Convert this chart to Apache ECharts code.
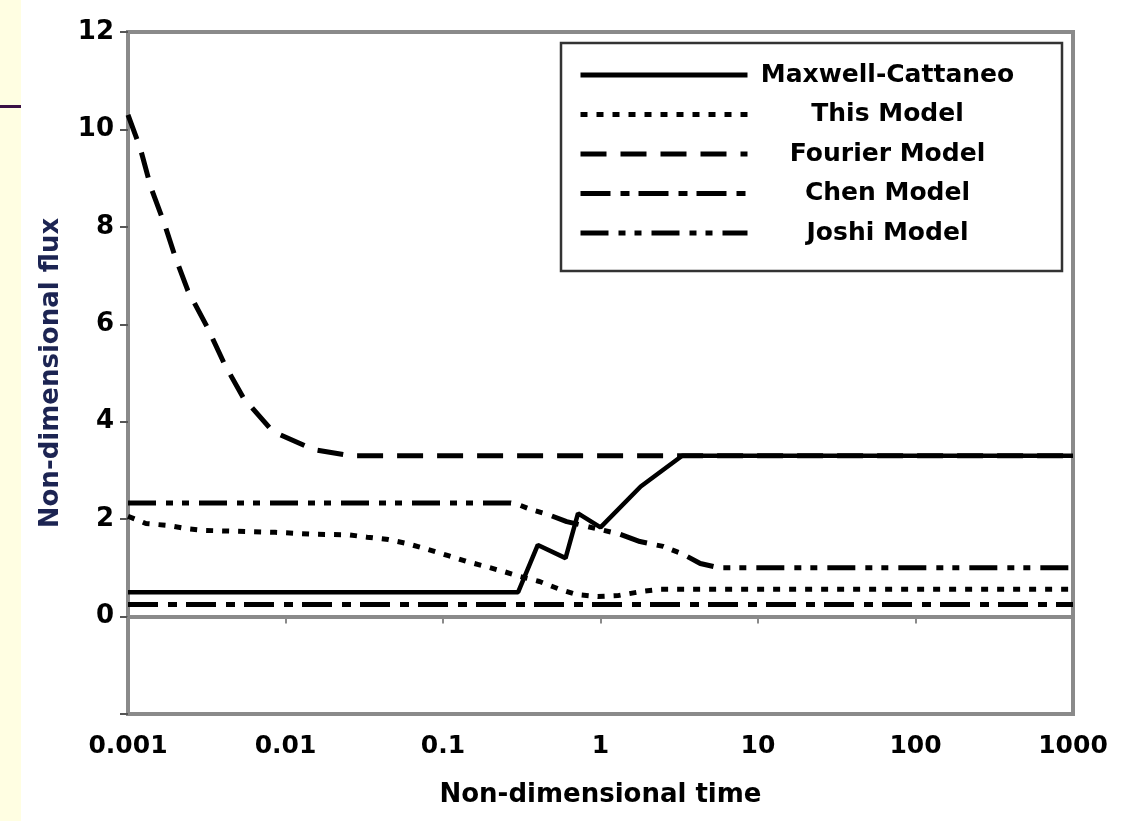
<!DOCTYPE html>
<html>
<head>
<meta charset="utf-8">
<script src="https://cdn.jsdelivr.net/npm/echarts@6/dist/echarts.min.js"></script>
<style>
  html, body { margin: 0; padding: 0; background: #ffffff; }
  #chart { width: 1144px; height: 821px; }
</style>
</head>
<body>
<div id="chart"></div>
<script>
// Non-dimensional heat flux versus non-dimensional time (log scale) for five models.
const seriesNames = ['Maxwell-Cattaneo', 'This Model', 'Fourier Model', 'Chen Model', 'Joshi Model'];

const maxwellT = [0.001, 0.3, 0.4, 0.6, 0.72, 1.0, 1.8, 3.3, 1000];
const maxwellQ = [0.5, 0.5, 1.47, 1.2, 2.12, 1.83, 2.67, 3.3, 3.3];

const thisModelT = [0.001, 0.0013, 0.0018, 0.0023, 0.003, 0.005, 0.0086, 0.015, 0.025, 0.033, 0.045, 0.059,
  0.08, 0.108, 0.142, 0.185, 0.24, 0.31, 0.41, 0.55, 0.71, 0.96, 1.29, 1.78, 2.4, 1000];
const thisModelQ = [2.06, 1.91, 1.87, 1.81, 1.77, 1.75, 1.73, 1.69, 1.68, 1.63, 1.58, 1.5,
  1.38, 1.25, 1.13, 1.03, 0.93, 0.82, 0.72, 0.56, 0.45, 0.41, 0.43, 0.51, 0.56, 0.56];

const fourierT = [0.001, 0.0012, 0.0014, 0.0017, 0.002, 0.0024, 0.0032, 0.0041, 0.0054, 0.0083, 0.015, 0.026, 1000];
const fourierQ = [10.3, 9.6, 8.8, 8.07, 7.37, 6.69, 5.93, 5.18, 4.49, 3.8, 3.43, 3.3, 3.3];

const chenT = [0.001, 1000];
const chenQ = [0.25, 0.25];

const joshiT = [0.001, 0.27, 0.3, 0.36, 0.46, 0.61, 1.33, 1.78, 2.5, 3.34, 4.3, 5.7, 1000];
const joshiQ = [2.33, 2.33, 2.3, 2.2, 2.1, 1.95, 1.69, 1.54, 1.44, 1.28, 1.09, 1.0, 1.0];

const xTickLabels = ['0.001', '0.01', '0.1', '1', '10', '100', '1000'];
const yTickLabels = ['0', '2', '4', '6', '8', '10', '12'];

const zip = (t, q) => t.map((v, i) => [v, q[i]]);

// dash patterns in pixels
const dashes = {
  'Maxwell-Cattaneo': 'solid',
  'This Model': [7, 9],
  'Fourier Model': [26, 14],
  'Chen Model': [30, 10, 9, 9],
  'Joshi Model': [28, 10, 7, 9, 7, 10]
};

const seriesData = {
  'Maxwell-Cattaneo': zip(maxwellT, maxwellQ),
  'This Model': zip(thisModelT, thisModelQ),
  'Fourier Model': zip(fourierT, fourierQ),
  'Chen Model': zip(chenT, chenQ),
  'Joshi Model': zip(joshiT, joshiQ)
};

const fontFam = 'DejaVu Sans, Verdana, sans-serif';

const chart = echarts.init(document.getElementById('chart'), null, { renderer: 'canvas' });

chart.setOption({
  animation: false,
  backgroundColor: '#ffffff',
  graphic: [
    { type: 'rect', z: 0, shape: { x: 0, y: 0, width: 21, height: 821 }, style: { fill: '#fffee2' } },
    { type: 'rect', z: 0, shape: { x: 0, y: 105, width: 21, height: 3 }, style: { fill: '#3a1046' } },
    { type: 'rect', z: 3, shape: { x: 561, y: 43, width: 501, height: 228 },
      style: { fill: '#ffffff', stroke: '#333333', lineWidth: 2.5 } }
  ],
  grid: {
    left: 128, right: 71, top: 32, bottom: 107,
    show: true, borderColor: '#8a8a8a', borderWidth: 4, backgroundColor: 'transparent'
  },
  legend: {
    orient: 'vertical',
    left: 578, top: 61, padding: 0,
    itemWidth: 167, itemHeight: 10, itemGap: 11.5,
    data: seriesNames,
    lineStyle: { width: 5 },
    itemStyle: { color: 'rgba(0,0,0,0)', borderWidth: 0, opacity: 0 },
    formatter: name => '{t|' + name + '}',
    textStyle: {
      rich: {
        t: { width: 270, align: 'center', fontSize: 25, fontWeight: 'bold', fontFamily: fontFam,
             color: '#000', lineHeight: 28, height: 28 }
      }
    }
  },
  xAxis: {
    type: 'log', logBase: 10, min: 0.001, max: 1000,
    splitLine: { show: false },
    axisLine: { lineStyle: { color: '#8a8a8a', width: 4 } },
    axisTick: { length: 7, lineStyle: { color: '#8a8a8a', width: 2 } },
    axisLabel: {
      margin: 20, fontSize: 25, fontWeight: 'bold', fontFamily: fontFam, color: '#000',
      formatter: v => {
        const e = Math.round(Math.log10(v));
        return xTickLabels[e + 3] || '';
      }
    },
    name: 'Non-dimensional time', nameLocation: 'middle', nameGap: 68,
    nameTextStyle: { fontSize: 26, fontWeight: 'bold', fontFamily: fontFam, color: '#000' }
  },
  yAxis: {
    type: 'value', min: -2, max: 12, interval: 2,
    splitLine: { show: false },
    axisLine: { show: true, lineStyle: { color: '#8a8a8a', width: 4 } },
    axisTick: { show: true, length: 8, lineStyle: { color: '#555555', width: 2 } },
    axisLabel: {
      margin: 14, fontSize: 26, fontWeight: 'bold', fontFamily: fontFam, color: '#000',
      formatter: v => (yTickLabels.indexOf(String(v)) >= 0 ? String(v) : '')
    },
    name: 'Non-dimensional flux', nameLocation: 'middle', nameGap: 64, nameRotate: 90,
    nameTextStyle: { fontSize: 26, fontWeight: 'bold', fontFamily: fontFam, color: '#1c2452' }
  },
  series: seriesNames.map(name => ({
    name,
    type: 'line',
    data: seriesData[name],
    showSymbol: false,
    symbol: 'none',
    smooth: false,
    z: 2,
    lineStyle: { color: '#000000', width: name === 'Maxwell-Cattaneo' ? 4.5 : 5, type: dashes[name] },
    itemStyle: { color: '#000000' }
  }))
});
</script>
</body>
</html>
